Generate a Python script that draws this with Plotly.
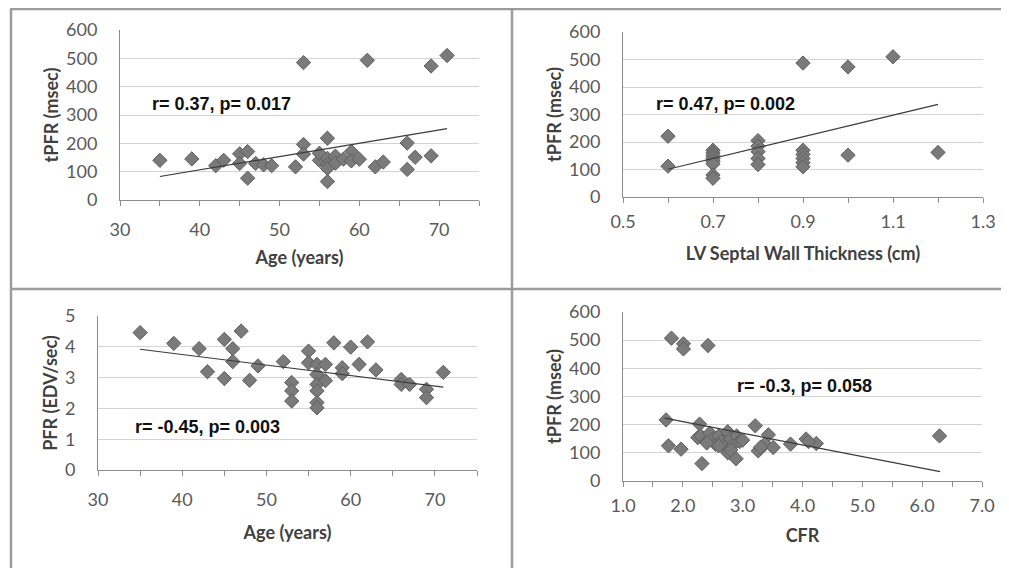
import plotly.graph_objects as go

# ---------------- data ----------------
# Panel A: Age vs tPFR
age_a = [35, 39, 42, 43, 45, 45, 46, 46, 47, 48, 49, 52, 53, 53, 53, 55, 55, 56, 56, 56,
         56, 56, 57, 57, 58, 59, 59, 60, 61, 62, 63, 66, 66, 67, 69, 69, 71]
tpfr_a = [140, 145, 121, 140, 163, 129, 171, 77, 129, 124, 121, 117, 485, 196, 162, 140, 165, 218, 147, 125,
          112, 65, 155, 130, 144, 171, 138, 144, 493, 117, 134, 201, 108, 151, 473, 156, 510]
trend_a_x = [35, 71]
trend_a_y = [83, 252]

# Panel B: LV septal wall thickness vs tPFR
septal_b = [0.6, 0.6, 0.7, 0.7, 0.7, 0.7, 0.7, 0.7, 0.7, 0.7, 0.8, 0.8, 0.8, 0.8, 0.8,
            0.9, 0.9, 0.9, 0.9, 0.9, 0.9, 1.0, 1.0, 1.1, 1.2]
tpfr_b = [221, 112, 170, 160, 150, 140, 130, 120, 80, 68, 205, 185, 165, 140, 118,
          487, 170, 155, 140, 125, 110, 473, 152, 510, 162]
trend_b_x = [0.6, 1.2]
trend_b_y = [101, 337]

# Panel C: Age vs PFR
age_c = [35, 39, 42, 43, 45, 45, 46, 46, 47, 48, 49, 52, 53, 53, 53, 55, 55, 56, 56, 56,
         56, 56, 56, 57, 57, 58, 59, 59, 60, 61, 62, 63, 66, 66, 67, 69, 69, 71]
pfr_c = [4.46, 4.11, 3.94, 3.19, 4.24, 2.97, 3.94, 3.52, 4.51, 2.91, 3.38, 3.52, 2.84, 2.57, 2.24, 3.86, 3.48, 3.43, 3.10, 2.78,
         2.57, 2.19, 2.02, 3.43, 2.90, 4.13, 3.32, 3.13, 3.99, 3.43, 4.16, 3.25, 2.94, 2.78, 2.78, 2.62, 2.35, 3.17]
trend_c_x = [35, 71]
trend_c_y = [3.92, 2.69]

# Panel D: CFR vs tPFR
cfr_d = [1.72, 1.76, 1.81, 1.97, 2.01, 2.01, 2.28, 2.25, 2.32, 2.42, 2.89, 3.21, 3.26, 3.43, 3.37, 3.51, 3.80, 4.06, 4.23, 6.29,
         2.30, 2.40, 2.45, 2.50, 2.55, 2.60, 2.65, 2.70, 2.75, 2.75, 2.80, 2.85, 2.90, 2.95, 3.00, 2.40, 2.60, 2.80, 3.30, 4.10]
tpfr_d = [217, 125, 507, 113, 487, 469, 202, 154, 62, 481, 79, 196, 107, 164, 131, 119, 131, 149, 133, 160,
          160, 140, 170, 150, 130, 160, 140, 120, 175, 100, 150, 130, 160, 140, 145, 135, 125, 110, 120, 140]
trend_d_x = [1.7, 6.3]
trend_d_y = [223, 33]

labels = {
    "a": ("Age (years)", "tPFR (msec)", "r= 0.37, p= 0.017"),
    "b": ("LV Septal Wall Thickness (cm)", "tPFR (msec)", "r= 0.47, p= 0.002"),
    "c": ("Age (years)", "PFR (EDV/sec)", "r= -0.45, p= 0.003"),
    "d": ("CFR", "tPFR (msec)", "r= -0.3, p= 0.058"),
}

# ---------------- styling ----------------
OFF = 8                      # page body margin of the rendered html
W, H = 1009 - OFF, 568 - OFF
MARKER = dict(symbol="diamond", size=11, color="#7a7a7a", line=dict(color="#5e5e5e", width=1))
TREND = dict(color="#3a3a3a", width=1.2)
TICKFONT = dict(family="Lato, Open Sans, sans-serif", size=18, color="#595959")
TITLEFONT = dict(family="Lato, Open Sans, sans-serif", size=18, color="#404040", weight="bold")
ANNFONT = dict(family="Liberation Sans, Arial, sans-serif", size=18, color="#111111", weight="bold")


def fx(p):
    return (p - OFF) / W


def fy(p):
    return 1 - (p - OFF) / H


def px_dom_x(a, b):
    return [fx(a), fx(b)]


def px_dom_y(top, bottom):
    return [fy(bottom), fy(top)]


fig = go.Figure()

panels = [
    ("a", age_a, tpfr_a, trend_a_x, trend_a_y, "x", "y"),
    ("b", septal_b, tpfr_b, trend_b_x, trend_b_y, "x2", "y2"),
    ("c", age_c, pfr_c, trend_c_x, trend_c_y, "x3", "y3"),
    ("d", cfr_d, tpfr_d, trend_d_x, trend_d_y, "x4", "y4"),
]
for key, xs, ys, tx, ty, xa, ya in panels:
    fig.add_trace(go.Scatter(x=xs, y=ys, mode="markers", marker=MARKER, xaxis=xa, yaxis=ya,
                             showlegend=False, hoverinfo="x+y"))
    fig.add_trace(go.Scatter(x=tx, y=ty, mode="lines", line=TREND, xaxis=xa, yaxis=ya,
                             showlegend=False, hoverinfo="skip"))


def xaxis(domain, rng, dtick, tick0, minor_dtick, title, anchor, lab_sd, title_sd, fmt=None):
    d = dict(domain=domain, range=rng, anchor=anchor, dtick=dtick, tick0=tick0, automargin=False,
             showline=True, linecolor="#8c8c8c", linewidth=1, showgrid=False, zeroline=False,
             ticks="outside", ticklen=5, tickcolor="#8c8c8c", tickfont=TICKFONT,
             minor=dict(dtick=minor_dtick, tick0=tick0, ticks="outside", ticklen=5, tickcolor="#8c8c8c", showgrid=False),
             ticklabelstandoff=lab_sd,
             title=dict(text=title, font=TITLEFONT, standoff=title_sd))
    if fmt:
        d["tickformat"] = fmt
    return d


def yaxis(domain, rng, dtick, title, anchor):
    return dict(domain=domain, range=rng, anchor=anchor, dtick=dtick, tick0=0, automargin=False,
                showline=True, linecolor="#8c8c8c", linewidth=1, showgrid=True, gridcolor="#d3d3d3", gridwidth=1,
                zeroline=False, ticks="", tickfont=TICKFONT, ticklabelstandoff=18,
                title=dict(text=title, font=TITLEFONT, standoff=2))


fig.update_layout(
    width=W, height=H, margin=dict(l=0, r=0, t=0, b=0, pad=0, autoexpand=False),
    paper_bgcolor="white", plot_bgcolor="white", showlegend=False,
    xaxis=xaxis(px_dom_x(120, 479), [30, 75], 10, 30, 5, labels["a"][0], "y", 8, 12),
    yaxis=yaxis(px_dom_y(30, 200), [0, 600], 100, labels["a"][1], "x"),
    xaxis2=xaxis(px_dom_x(623, 983), [0.5, 1.3], 0.2, 0.5, 0.1, labels["b"][0], "y2", 3, 16, ".1f"),
    yaxis2=yaxis(px_dom_y(32, 197), [0, 600], 100, labels["b"][1], "x2"),
    xaxis3=xaxis(px_dom_x(98, 477), [30, 75], 10, 30, 5, labels["c"][0], "y3", 8, 17),
    yaxis3=yaxis(px_dom_y(316, 470), [0, 5], 1, labels["c"][1], "x3"),
    xaxis4=xaxis(px_dom_x(623, 982), [1, 7], 1, 1, 0.5, labels["d"][0], "y4", 3, 14, ".1f"),
    yaxis4=yaxis(px_dom_y(312, 481), [0, 600], 100, labels["d"][1], "x4"),
)

# correlation annotations
ann_pos = {"a": ("x", "y", 33.8, 339), "b": ("x2", "y2", 0.569, 338),
           "c": ("x3", "y3", 34.15, 1.40), "d": ("x4", "y4", 2.87, 337)}
for key, (xr, yr, ax_, ay_) in ann_pos.items():
    fig.add_annotation(x=ax_, y=ay_, xref=xr, yref=yr, text=labels[key][2], showarrow=False,
                       xanchor="left", yanchor="middle", font=ANNFONT)

# panel frame lines
border = dict(color="#9c9c9c", width=2.5)
fig.add_shape(type="line", xref="paper", yref="paper", x0=fx(10), x1=1, y0=fy(9), y1=fy(9), line=border)
fig.add_shape(type="line", xref="paper", yref="paper", x0=fx(11), x1=fx(11), y0=0, y1=fy(9), line=border)
fig.add_shape(type="line", xref="paper", yref="paper", x0=fx(512), x1=fx(512), y0=0, y1=fy(9), line=border)
fig.add_shape(type="line", xref="paper", yref="paper", x0=fx(10), x1=1, y0=fy(289), y1=fy(289), line=border)

fig.write_html("out.html")
